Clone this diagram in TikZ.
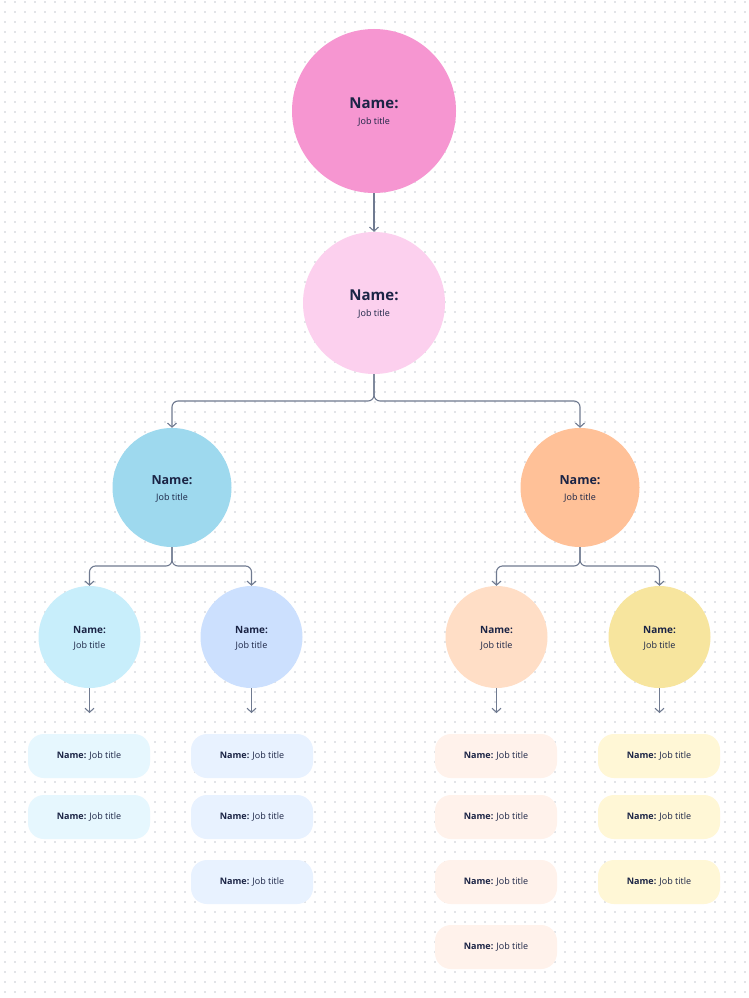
\documentclass[tikz,border=0pt]{standalone}
\usepackage{fontspec}
\setmainfont{Open Sans}
\usetikzlibrary{arrows.meta}

\definecolor{ink}{HTML}{1B2445}
\definecolor{wire}{HTML}{6F7A90}
\definecolor{dotgray}{HTML}{E2E4E8}
\definecolor{pinkA}{HTML}{F696D1}
\definecolor{pinkB}{HTML}{FCD0EE}
\definecolor{blueC}{HTML}{9ED9EE}
\definecolor{orangeC}{HTML}{FFC198}
\definecolor{cyanD}{HTML}{C8EEFB}
\definecolor{blueD}{HTML}{CCE0FE}
\definecolor{peachD}{HTML}{FFDEC6}
\definecolor{yellowD}{HTML}{F7E59E}
\definecolor{cyanE}{HTML}{E6F7FE}
\definecolor{blueE}{HTML}{E8F2FF}
\definecolor{peachE}{HTML}{FFF2EB}
\definecolor{yellowE}{HTML}{FFF7D6}

\newcommand{\roleline}[1]{{\fontsize{#1}{#1}\selectfont\bfseries\rule{0pt}{.9em}Name:}\\Job title}
\newcommand{\pilltext}{{\bfseries Name:} Job title}

\tikzset{
    person/.style={circle, inner sep=0pt, align=center, text=ink},
    link/.style={draw=wire, line width=1.1pt, rounded corners=6pt, -{Straight Barb[length=4pt,width=9pt]}},
    pill/.style={rounded corners=16pt, minimum width=122pt, minimum height=44pt, inner sep=0pt, text=ink, font=\fontsize{9}{11}\selectfont},
    dotrow/.style={draw=dotgray, line width=1.2pt, dash pattern=on 1.2pt off 8.8pt},
}

\begin{document}
\begin{tikzpicture}[x=1pt, y=-1pt]
    \fill[white] (0, 0) rectangle (749, 998);
    \useasboundingbox (0, 0) rectangle (749, 998);
    \foreach \y in {2,12,...,992}
        \draw[dotrow] (4.4, \y) -- (749, \y);

    \node[person, fill=pinkA, minimum size=164pt, font=\fontsize{9}{16}\selectfont] (A1) at (374, 111) {\roleline{15}};
    \node[person, fill=pinkB, minimum size=142pt, font=\fontsize{9}{16}\selectfont] (B1) at (374, 303) {\roleline{15}};

    \draw[link] (A1.south) -- (B1.north);

    \node[person, fill=blueC, minimum size=119pt, font=\fontsize{9}{16}\selectfont] (C1) at (172, 487.5) {\roleline{12.5}};
    \node[person, fill=orangeC, minimum size=119pt, font=\fontsize{9}{16}\selectfont] (C2) at (580, 487.5) {\roleline{12.5}};

    \coordinate (Bj) at (374, 401);
    \draw[link] (B1.south) -- (Bj) -| (C1.north);
    \draw[link] (B1.south) -- (Bj) -| (C2.north);

    \node[person, fill=cyanD, minimum size=102pt, font=\fontsize{9}{15}\selectfont] (D1) at (89.5, 637) {\roleline{10}};
    \node[person, fill=blueD, minimum size=102pt, font=\fontsize{9}{15}\selectfont] (D2) at (251.5, 637) {\roleline{10}};
    \node[person, fill=peachD, minimum size=102pt, font=\fontsize{9}{15}\selectfont] (D3) at (496.5, 637) {\roleline{10}};
    \node[person, fill=yellowD, minimum size=102pt, font=\fontsize{9}{15}\selectfont] (D4) at (659.5, 637) {\roleline{10}};

    \coordinate (C1j) at (172, 566);
    \coordinate (C2j) at (580, 566);
    \draw[link] (C1.south) -- (C1j) -| (D1.north);
    \draw[link] (C1.south) -- (C1j) -| (D2.north);
    \draw[link] (C2.south) -- (C2j) -| (D3.north);
    \draw[link] (C2.south) -- (C2j) -| (D4.north);

    \coordinate (D1e) at (89.5, 713);
    \coordinate (D2e) at (251.5, 713);
    \coordinate (D3e) at (496.5, 713);
    \coordinate (D4e) at (659.5, 713);
    \draw[link] (D1.south) -- (D1e);
    \draw[link] (D2.south) -- (D2e);
    \draw[link] (D3.south) -- (D3e);
    \draw[link] (D4.south) -- (D4e);

    \node[pill, fill=cyanE] (E11) at (89, 756) {\pilltext};
    \node[pill, fill=cyanE] (E12) at (89, 817) {\pilltext};

    \node[pill, fill=blueE] (E21) at (252, 756) {\pilltext};
    \node[pill, fill=blueE] (E22) at (252, 817) {\pilltext};
    \node[pill, fill=blueE] (E23) at (252, 882) {\pilltext};

    \node[pill, fill=peachE] (E31) at (496, 756) {\pilltext};
    \node[pill, fill=peachE] (E32) at (496, 817) {\pilltext};
    \node[pill, fill=peachE] (E33) at (496, 882) {\pilltext};
    \node[pill, fill=peachE] (E34) at (496, 947) {\pilltext};

    \node[pill, fill=yellowE] (E41) at (659, 756) {\pilltext};
    \node[pill, fill=yellowE] (E42) at (659, 817) {\pilltext};
    \node[pill, fill=yellowE] (E43) at (659, 882) {\pilltext};
\end{tikzpicture}
\end{document}
